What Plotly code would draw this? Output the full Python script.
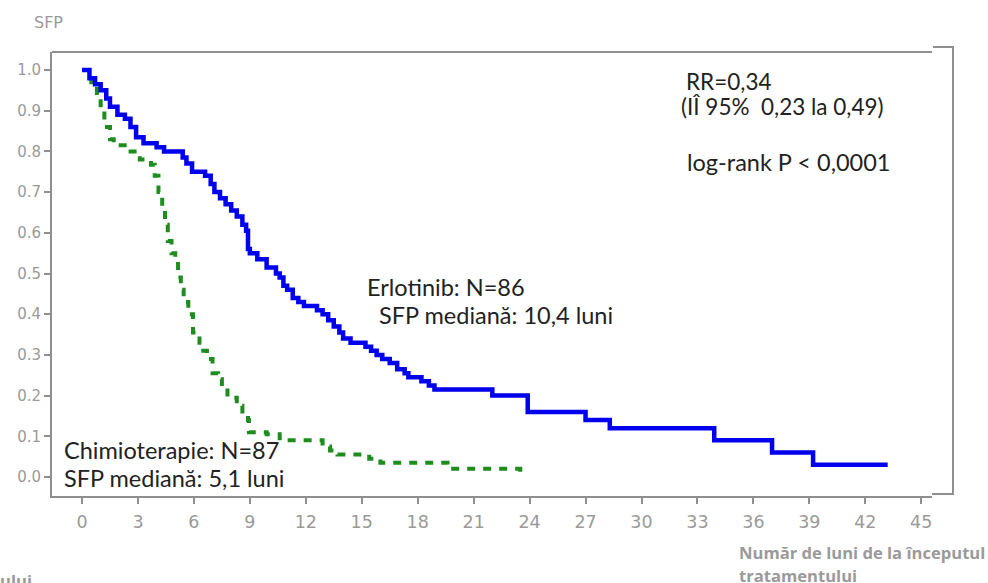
import plotly.graph_objects as go

# ---- data ----
erlotinib_t = [0, 0.4, 0.7, 1.0, 1.3, 1.5, 1.9, 2.3, 2.6, 2.9, 3.3, 4.0, 4.4, 5.4, 5.6, 5.9,
               6.6, 6.9, 7.1, 7.4, 7.7, 8.0, 8.3, 8.6, 8.8, 8.9, 9.0, 9.4, 9.9, 10.4, 10.6,
               10.8, 11.0, 11.3, 11.6, 11.9, 12.6, 12.9, 13.2, 13.5, 13.8, 14.0, 14.4, 15.2,
               15.5, 15.8, 16.1, 16.5, 16.9, 17.3, 17.5, 18.2, 18.6, 18.9, 22.0, 23.9, 27.0,
               28.3, 33.9, 37.0, 39.2, 43.2]
erlotinib_s = [1.0, 0.98, 0.965, 0.95, 0.93, 0.91, 0.89, 0.88, 0.86, 0.835, 0.82, 0.81, 0.80,
               0.785, 0.77, 0.75, 0.74, 0.72, 0.70, 0.685, 0.67, 0.655, 0.64, 0.62, 0.605,
               0.56, 0.55, 0.535, 0.515, 0.50, 0.49, 0.47, 0.46, 0.44, 0.43, 0.42, 0.41, 0.40,
               0.385, 0.37, 0.355, 0.34, 0.33, 0.32, 0.31, 0.30, 0.29, 0.28, 0.265, 0.255,
               0.245, 0.235, 0.225, 0.215, 0.20, 0.16, 0.14, 0.12, 0.09, 0.06, 0.03, 0.03]

chemo_t = [0, 0.5, 0.8, 1.0, 1.2, 1.5, 1.7, 2.4, 3.1, 3.7, 3.9, 4.1, 4.3, 4.45, 4.6, 4.8, 5.0,
           5.15, 5.3, 5.45, 5.7, 5.95, 6.3, 6.5, 6.7, 7.0, 7.3, 7.5, 7.8, 8.3, 8.6, 8.9, 8.95,
           9.9, 10.6, 12.9, 13.3, 13.7, 15.4, 16.0, 19.6, 23.5]
chemo_s = [1.0, 0.97, 0.93, 0.90, 0.86, 0.83, 0.815, 0.80, 0.78, 0.767, 0.74, 0.70, 0.66, 0.62,
           0.58, 0.55, 0.53, 0.49, 0.46, 0.43, 0.40, 0.355, 0.33, 0.31, 0.29, 0.255, 0.24, 0.22,
           0.195, 0.175, 0.155, 0.14, 0.11, 0.105, 0.09, 0.075, 0.065, 0.055, 0.045, 0.035,
           0.02, 0.0]

x_ticks = [0, 3, 6, 9, 12, 15, 18, 21, 24, 27, 30, 33, 36, 39, 42, 45]
y_ticks = [0.0, 0.1, 0.2, 0.3, 0.4, 0.5, 0.6, 0.7, 0.8, 0.9, 1.0]

# ---- geometry ----
W, H = 988, 583
L, R, T, B = 52, 932, 52, 496          # plot area in pixels
X0PX, PXM = 82, 18.65                  # pixel of month 0, pixels per month
Y0PX, PXU = 477, 407                   # pixel of 0.0, pixels per unit
xmin = -(X0PX - L) / PXM
xmax = xmin + (R - L) / PXM
ymin = -(B - Y0PX) / PXU
ymax = ymin + (B - T) / PXU


def px(xp):
    return (xp - L) / (R - L)


def py(yp):
    return (B - yp) / (B - T)


GRAY = "#8f8f8f"
TXT = "#222222"
LABEL_GRAY = "#9a9a9a"

fig = go.Figure()
fig.add_trace(go.Scatter(x=chemo_t, y=chemo_s, mode="lines", line_shape="hv",
                         line=dict(color="#1E8C1E", width=4, dash="8px,8px"),
                         name="Chimioterapie", hoverinfo="skip"))
fig.add_trace(go.Scatter(x=erlotinib_t, y=erlotinib_s, mode="lines", line_shape="hv",
                         line=dict(color="#0000EE", width=4.5),
                         name="Erlotinib", hoverinfo="skip"))

fig.update_layout(
    width=W, height=H,
    margin=dict(l=L, r=W - R, t=T, b=H - B, pad=0),
    paper_bgcolor="white", plot_bgcolor="white",
    showlegend=False,
    xaxis=dict(range=[xmin, xmax], tickvals=x_ticks, ticktext=[str(v) for v in x_ticks],
               showgrid=False, zeroline=False, showline=True, linecolor=GRAY, linewidth=2,
               ticks="outside", ticklen=6, tickcolor=GRAY, tickwidth=1.5,
               ticklabelstandoff=3,
               tickfont=dict(family="DejaVu Sans", size=17.5, color=LABEL_GRAY)),
    yaxis=dict(range=[ymin, ymax], tickvals=y_ticks, tickformat=".1f",
               showgrid=False, zeroline=False, showline=True, linecolor=GRAY, linewidth=2,
               ticks="outside", ticklen=6, tickcolor=GRAY, tickwidth=1.5,
               tickfont=dict(family="DejaVu Sans", size=15, color=LABEL_GRAY)),
)

# frame: top line and the right bracket
fig.add_shape(type="line", xref="paper", yref="paper", x0=0, x1=1, y0=1, y1=1,
              line=dict(color=GRAY, width=2))
fig.add_shape(type="path", xref="paper", yref="paper",
              path=f"M {px(933)} {py(47)} L {px(953)} {py(47)} L {px(953)} {py(494)} L {px(932)} {py(494)}",
              line=dict(color=GRAY, width=2))


def note(text, xp, yp, size=23.5, color=TXT, family="Lato", anchor="left"):
    fig.add_annotation(text=text, xref="paper", yref="paper", x=px(xp), y=py(yp),
                       xanchor=anchor, yanchor="middle", showarrow=False,
                       font=dict(family=family, size=size, color=color))


note("SFP", 32, 23, size=16, color=LABEL_GRAY, family="DejaVu Sans")
note("RR=0,34", 684, 82, size=22.5)
note("(IÎ 95%  0,23 la 0,49)", 679, 107, size=22.5)
note("log-rank P < 0,0001", 685, 162)
note("Erlotinib: N=86", 365, 287)
note("SFP mediană: 10,4 luni", 377, 315)
note("Chimioterapie: N=87", 62, 450)
note("SFP mediană: 5,1 luni", 62, 478)
note("<b>Număr de luni de la începutul</b>", 737, 552, size=16.6, color=LABEL_GRAY, family="Open Sans")
note("<b>tratamentului</b>", 737, 575, size=16.6, color=LABEL_GRAY, family="Open Sans")
note("<b>ului</b>", -2, 580, size=16.6, color=LABEL_GRAY, family="Open Sans")

fig.write_html("out.html", config={"displayModeBar": False},
               post_script="document.body.style.margin='0';document.body.style.overflow='hidden';")
